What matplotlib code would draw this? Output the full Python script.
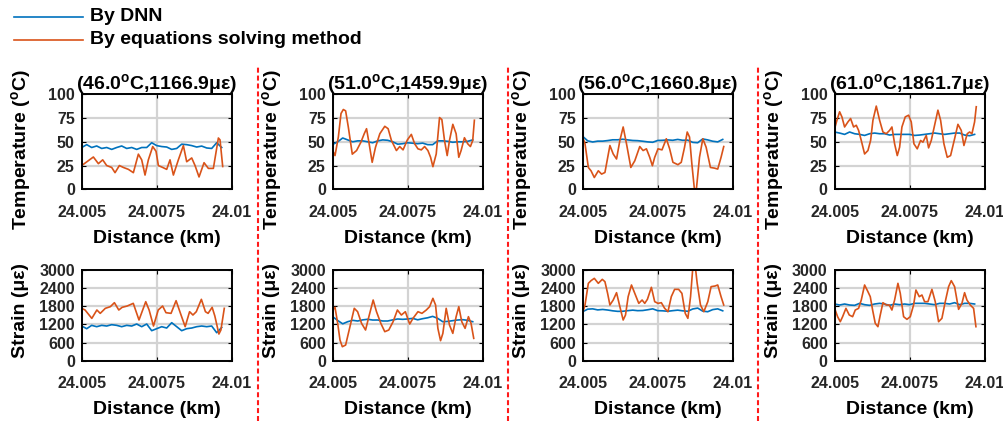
import matplotlib
matplotlib.use('Agg')
import matplotlib.pyplot as plt
from matplotlib.lines import Line2D

plt.rcParams['font.family'] = ['Liberation Sans', 'DejaVu Sans']
plt.rcParams['font.weight'] = 'bold'
plt.rcParams['mathtext.fontset'] = 'custom'
plt.rcParams['mathtext.rm'] = 'Liberation Sans:bold'
plt.rcParams['mathtext.it'] = 'Liberation Sans:bold'
plt.rcParams['mathtext.bf'] = 'Liberation Sans:bold'

# ---------------- data ----------------
titles = ['(46.0$^\\mathrm{o}$C,1166.9με)', '(51.0$^\\mathrm{o}$C,1459.9με)',
          '(56.0$^\\mathrm{o}$C,1660.8με)', '(61.0$^\\mathrm{o}$C,1861.7με)']
legend_labels = ['By DNN', 'By equations solving method']
x_ticks = [24.005, 24.0075, 24.01]
x_tick_labels = ['24.005', '24.0075', '24.01']
temp_ticks = [0, 25, 50, 75, 100]
strain_ticks = [0, 600, 1200, 1800, 2400, 3000]

dist_dnn = [24.005000, 24.005167, 24.005333, 24.005500, 24.005667, 24.005833, 24.006000,
            24.006167, 24.006333, 24.006500, 24.006667, 24.006833, 24.007000, 24.007167,
            24.007333, 24.007500, 24.007667, 24.007833, 24.008000, 24.008167, 24.008333,
            24.008500, 24.008667, 24.008833, 24.009000, 24.009167, 24.009333, 24.009500,
            24.009667]

temp_dnn_46 = [44, 47, 44, 45.6, 43, 44, 42, 44, 45.6, 43, 44, 42, 44, 44, 49, 46, 45, 44.5,
               42, 43, 47.5, 47, 46, 44.5, 45.5, 43.5, 43, 49, 44]
temp_dnn_51 = [47.2, 50, 54, 52, 50, 51, 51, 50, 49, 51, 52, 51.6, 50, 47.5, 48, 49, 48.5, 48,
               48.6, 47, 47, 51, 51, 50.5, 49.5, 50, 50, 50.5, 52]
temp_dnn_56 = [55.7, 51, 49.8, 50.7, 50.7, 51.3, 52.1, 52.1, 52.7, 52, 51.4, 51.2, 50.6, 49.9,
               49.5, 51.4, 51.6, 52, 51.6, 52.5, 51.6, 51.8, 49.4, 49, 53, 52, 50.6, 49.9, 52.5]
temp_dnn_61 = [60.3, 59.2, 57.8, 60.3, 58.5, 57.8, 56.7, 58.5, 59.2, 58.5, 58.5, 57.1, 57.8,
               57.8, 57.8, 57.8, 56.7, 57.1, 57.8, 58.5, 59.2, 58.5, 57.8, 58.5, 59.2, 59.2,
               57.1, 56.4, 57.8]

strain_dnn_46 = [1147, 1059, 1169, 1125, 1169, 1147, 1191, 1169, 1125, 1169, 1147, 1213, 1125,
                 1213, 993, 1059, 1125, 1081, 1257, 1125, 993, 1059, 1081, 1125, 1147, 1125,
                 1147, 926, 1100]
strain_dnn_51 = [1456, 1330, 1220, 1290, 1335, 1313, 1350, 1370, 1345, 1346, 1313, 1313, 1350,
                 1380, 1368, 1380, 1400, 1352, 1390, 1420, 1466, 1400, 1290, 1300, 1324, 1346,
                 1357, 1335, 1290]
strain_dnn_56 = [1621, 1705, 1715, 1680, 1695, 1676, 1650, 1632, 1635, 1655, 1672, 1655, 1660,
                 1685, 1715, 1655, 1650, 1635, 1655, 1672, 1650, 1635, 1710, 1740, 1640, 1620,
                 1690, 1715, 1650]
strain_dnn_61 = [1875, 1842, 1875, 1842, 1831, 1897, 1853, 1831, 1875, 1897, 1875, 1831, 1875,
                 1853, 1875, 1853, 1897, 1897, 1897, 1875, 1853, 1897, 1897, 1875, 1919, 1853,
                 1897, 1897, 1875]

# equations solving method
dist_eq_temp_46 = [24.005000, 24.005389, 24.005556, 24.005700, 24.005833, 24.006000, 24.006111,
                   24.006256, 24.006389, 24.006556, 24.006722, 24.006889, 24.007000, 24.007111,
                   24.007222, 24.007367, 24.007478, 24.007556, 24.007700, 24.007833, 24.007944,
                   24.008056, 24.008222, 24.008389, 24.008500, 24.008667, 24.008778, 24.008911,
                   24.009078, 24.009222, 24.009389, 24.009556, 24.009611, 24.009700]
temp_eq_46 = [25, 34, 27, 31, 25, 23, 17.5, 25, 23, 21, 17.5, 37, 31, 15, 31, 45, 40, 25, 23, 21,
              31, 15, 31, 46, 29, 33, 25, 13, 28, 22, 22, 54, 52, 24]

dist_eq_strain_46 = [24.005000, 24.005112, 24.005337, 24.005506, 24.005618, 24.005787, 24.005955,
                     24.006090, 24.006236, 24.006348, 24.006517, 24.006719, 24.006910, 24.007135,
                     24.007247, 24.007393, 24.007551, 24.007697, 24.007809, 24.007978, 24.008146,
                     24.008292, 24.008449, 24.008596, 24.008708, 24.008820, 24.008989, 24.009124,
                     24.009213, 24.009348, 24.009438, 24.009573, 24.009640, 24.009753]
strain_eq_46 = [1732, 1677, 1400, 1677, 1566, 1732, 1787, 1919, 1677, 1765, 1809, 1897, 1346,
                1952, 1677, 1147, 1677, 1809, 1588, 1566, 1985, 1566, 1125, 1621, 1511, 1621,
                2030, 1621, 1566, 1765, 1478, 882, 1015, 1732]

dist_eq_temp_51 = [24.005000, 24.005077, 24.005188, 24.005277, 24.005354, 24.005431, 24.005520,
                   24.005653, 24.005796, 24.005940, 24.006051, 24.006128, 24.006206, 24.006316,
                   24.006427, 24.006571, 24.006736, 24.006847, 24.006958, 24.007124, 24.007234,
                   24.007345, 24.007489, 24.007621, 24.007732, 24.007842, 24.007953, 24.008064,
                   24.008174, 24.008263, 24.008340, 24.008451, 24.008561, 24.008639, 24.008727,
                   24.008816, 24.008893, 24.009004, 24.009114, 24.009203, 24.009280, 24.009391,
                   24.009501, 24.009590, 24.009667, 24.009723]
temp_eq_51 = [40.8, 35.5, 55, 79.8, 84, 82.6, 65.6, 37, 40.8, 49.6, 58.5, 63.8, 49.6, 28.4, 44.3,
              58.5, 66.3, 63.8, 51.4, 40.8, 45, 41.5, 52, 57.8, 47.9, 42.6, 41.5, 45, 40.8, 33.7,
              23.8, 37.2, 75.5, 73.4, 51.4, 35.5, 51.4, 68.4, 58.5, 33.7, 40.8, 54.3, 47.9, 45,
              51.4, 72.7]

dist_eq_strain_51 = [24.005000, 24.005077, 24.005166, 24.005243, 24.005321, 24.005431, 24.005575,
                     24.005719, 24.005830, 24.005962, 24.006095, 24.006206, 24.006349, 24.006460,
                     24.006604, 24.006736, 24.006869, 24.007013, 24.007157, 24.007289, 24.007422,
                     24.007566, 24.007677, 24.007842, 24.007975, 24.008119, 24.008230, 24.008340,
                     24.008429, 24.008506, 24.008595, 24.008672, 24.008783, 24.008893, 24.009004,
                     24.009114, 24.009203, 24.009302, 24.009413, 24.009524, 24.009612, 24.009701]
strain_eq_51 = [1676, 1765, 1235, 684, 463, 518, 1125, 1732, 1621, 1235, 1015, 1456, 2007, 1621,
                1235, 960, 1015, 1290, 1676, 1511, 1621, 1213, 1401, 1621, 1566, 1676, 1787, 2063,
                1842, 1070, 662, 904, 1732, 1180, 904, 1456, 1787, 1290, 1070, 1456, 1235, 739]

dist_eq_temp_56 = [24.005000, 24.005077, 24.005188, 24.005277, 24.005387, 24.005520, 24.005630,
                   24.005741, 24.005907, 24.006017, 24.006128, 24.006239, 24.006349, 24.006460,
                   24.006604, 24.006736, 24.006902, 24.007013, 24.007124, 24.007234, 24.007323,
                   24.007400, 24.007511, 24.007643, 24.007787, 24.007898, 24.008008, 24.008174,
                   24.008285, 24.008395, 24.008484, 24.008561, 24.008639, 24.008727, 24.008794,
                   24.008893, 24.009004, 24.009114, 24.009258, 24.009391, 24.009501, 24.009612,
                   24.009701]
temp_eq_56 = [55, 47.9, 23, 19.5, 12.4, 19.5, 16, 17.7, 46.1, 37.2, 31.9, 51.4, 65.6, 47.9, 23,
              30, 45, 40.8, 42.6, 33.7, 24.8, 33.7, 42.6, 41.5, 53.2, 42.6, 28.4, 25.9, 28.4,
              44.3, 60.3, 55, 26.6, -1, 1.5, 33.7, 53.2, 44.3, 23, 22.3, 21.3, 33.7, 45]

dist_eq_strain_56 = [24.005000, 24.005077, 24.005188, 24.005277, 24.005387, 24.005520, 24.005653,
                     24.005741, 24.005830, 24.005907, 24.006017, 24.006128, 24.006239, 24.006349,
                     24.006427, 24.006515, 24.006626, 24.006758, 24.006869, 24.006980, 24.007068,
                     24.007157, 24.007289, 24.007400, 24.007511, 24.007621, 24.007732, 24.007842,
                     24.007953, 24.008064, 24.008197, 24.008307, 24.008418, 24.008506, 24.008595,
                     24.008672, 24.008749, 24.008816, 24.008926, 24.009037, 24.009170, 24.009280,
                     24.009413, 24.009501, 24.009612, 24.009701]
strain_eq_56 = [1588, 1842, 2559, 2647, 2724, 2559, 2691, 2614, 2228, 1842, 2007, 2250, 1787,
                1346, 1511, 2118, 2504, 2173, 1897, 2007, 1897, 2030, 2427, 1952, 1897, 1919,
                1732, 1621, 2118, 2360, 2360, 2228, 1566, 1401, 2118, 3100, 3150, 2559, 1842,
                1621, 1952, 2449, 2471, 2504, 2118, 1842]

dist_eq_temp_61 = [24.005000, 24.005078, 24.005167, 24.005244, 24.005333, 24.005444, 24.005533,
                   24.005633, 24.005722, 24.005800, 24.005889, 24.006000, 24.006111, 24.006200,
                   24.006278, 24.006389, 24.006500, 24.006611, 24.006722, 24.006833, 24.006911,
                   24.007000, 24.007089, 24.007167, 24.007244, 24.007355, 24.007467, 24.007555,
                   24.007644, 24.007755, 24.007866, 24.007944, 24.008055, 24.008133, 24.008222,
                   24.008333, 24.008444, 24.008533, 24.008644, 24.008755, 24.008866, 24.009000,
                   24.009111, 24.009222, 24.009311, 24.009422, 24.009500, 24.009578, 24.009666,
                   24.009722]
temp_eq_61 = [63.8, 72.7, 81.6, 76.2, 65.6, 70.9, 74.5, 65.6, 67.4, 62, 51.4, 37.2, 40.8, 51.4,
              72.7, 87.6, 72.7, 60.3, 58.5, 62, 65.6, 47.9, 35.5, 44.3, 65.6, 76.2, 78, 70.9,
              47.9, 42.6, 51.4, 49.6, 56.7, 43.6, 51.4, 67.4, 83.3, 72.7, 47.9, 33.7, 35.5, 53.2,
              68.4, 62, 46.1, 58.5, 60.3, 58.5, 70.9, 86.9]

dist_eq_strain_61 = [24.005000, 24.005100, 24.005189, 24.005267, 24.005378, 24.005489, 24.005600,
                     24.005689, 24.005800, 24.005889, 24.006000, 24.006111, 24.006189, 24.006267,
                     24.006355, 24.006444, 24.006522, 24.006611, 24.006722, 24.006822, 24.006911,
                     24.007000, 24.007111, 24.007189, 24.007300, 24.007411, 24.007522, 24.007633,
                     24.007711, 24.007822, 24.007911, 24.008000, 24.008111, 24.008244, 24.008355,
                     24.008466, 24.008577, 24.008688, 24.008800, 24.008889, 24.009000, 24.009133,
                     24.009244, 24.009333, 24.009411, 24.009522, 24.009633, 24.009711]
strain_eq_61 = [1732, 1456, 1290, 1456, 1732, 1511, 1456, 1676, 1732, 2007, 2504, 2283, 2118,
                1676, 1235, 1125, 1511, 1919, 1842, 1842, 1676, 2007, 2559, 2228, 1456, 1368,
                1456, 1842, 2338, 2118, 2173, 1952, 1952, 2360, 1952, 1290, 1401, 1952, 2449,
                2647, 2449, 1699, 1897, 2250, 2007, 1842, 1732, 1125]

temp_dnn_all = [temp_dnn_46, temp_dnn_51, temp_dnn_56, temp_dnn_61]
strain_dnn_all = [strain_dnn_46, strain_dnn_51, strain_dnn_56, strain_dnn_61]
temp_eq_all = [(dist_eq_temp_46, temp_eq_46), (dist_eq_temp_51, temp_eq_51),
               (dist_eq_temp_56, temp_eq_56), (dist_eq_temp_61, temp_eq_61)]
strain_eq_all = [(dist_eq_strain_46, strain_eq_46), (dist_eq_strain_51, strain_eq_51),
                 (dist_eq_strain_56, strain_eq_56), (dist_eq_strain_61, strain_eq_61)]

# ---------------- style ----------------
BLUE = '#0072BD'
ORANGE = '#D95319'
W, H = 1004, 423
fig = plt.figure(figsize=(W / 100, H / 100), dpi=100)

col_left_px = [81.7, 332.7, 582.7, 834.6]
ax_w_px = 150.0
rows_px = [(94.3, 189.3), (270.0, 360.7)]


def style_axis(ax, yticks, ylabel, ylab_y):
    ax.set_xlim(24.005, 24.01)
    ax.set_ylim(yticks[0], yticks[-1])
    ax.set_xticks(x_ticks)
    ax.set_xticklabels(x_tick_labels)
    ax.set_yticks(yticks)
    ax.set_yticklabels([str(t) for t in yticks])
    ax.grid(True, color='#d3d3d3', lw=1.6)
    ax.set_axisbelow(True)
    for s in ax.spines.values():
        s.set_linewidth(1.4)
        s.set_color('black')
    ax.tick_params(direction='in', length=3, width=0.8, top=True, right=True,
                   labelsize=11.5, labelcolor='#262626', colors='black')
    ax.tick_params(axis='x', pad=11)
    ax.tick_params(axis='y', pad=5)
    for lab in ax.get_xticklabels() + ax.get_yticklabels():
        lab.set_fontweight('bold')
    h_px = ax.get_position().height * H
    ax.set_xlabel('Distance (km)', fontsize=14, fontweight='bold', va='center')
    ax.xaxis.set_label_coords(0.5, -49.0 / h_px)
    ax.set_ylabel(ylabel, fontsize=14, fontweight='bold', va='center')
    ax.yaxis.set_label_coords(-61.0 / ax_w_px, ylab_y)


for i in range(4):
    left = col_left_px[i]
    # temperature
    t0, t1 = rows_px[0]
    ax = fig.add_axes([left / W, 1 - t1 / H, ax_w_px / W, (t1 - t0) / H])
    ax.plot(dist_dnn, temp_dnn_all[i], color=BLUE, lw=1.2)
    ax.plot(temp_eq_all[i][0], temp_eq_all[i][1], color=ORANGE, lw=1.2)
    style_axis(ax, temp_ticks, 'Temperature ($^\\mathrm{o}$C)', 0.42)
    ax.set_title(titles[i], fontsize=14, fontweight='bold', pad=4)
    # strain
    b0, b1 = rows_px[1]
    ax2 = fig.add_axes([left / W, 1 - b1 / H, ax_w_px / W, (b1 - b0) / H])
    ax2.plot(dist_dnn, strain_dnn_all[i], color=BLUE, lw=1.2)
    ax2.plot(strain_eq_all[i][0], strain_eq_all[i][1], color=ORANGE, lw=1.2)
    style_axis(ax2, strain_ticks, 'Strain (με)', 0.55)

# red dashed separators
for xpx in [257.8, 507.8, 757.8]:
    fig.add_artist(Line2D([xpx / W, xpx / W], [1 - 421 / H, 1 - 66 / H],
                          transform=fig.transFigure, color='#ff1a1a', lw=1.5,
                          linestyle=(0, (2.4, 1.4))))

# legend
for ypx, col, lab in [(16.7, BLUE, legend_labels[0]), (40.0, ORANGE, legend_labels[1])]:
    fig.add_artist(Line2D([14 / W, 83 / W], [1 - ypx / H, 1 - ypx / H],
                          transform=fig.transFigure, color=col, lw=1.2))
    fig.text(90 / W, 1 - ypx / H, lab, fontsize=14, fontweight='bold',
             va='center', ha='left', color='black')

fig.savefig('out.png', dpi=100)
